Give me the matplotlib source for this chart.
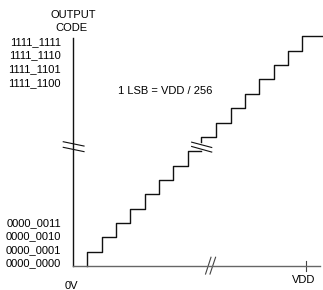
import matplotlib
matplotlib.use('Agg')
import matplotlib.pyplot as plt

plt.rcParams['font.family'] = ['Liberation Sans', 'DejaVu Sans']

# staircase, x in LSB, y in output code (drawn schematically, broken in the middle)
lower_x = [1, 1, 2, 3, 4, 5, 6, 7, 8, 8.9]
lower_code = [0, 1, 2, 3, 4, 5, 6, 7, 8, 8]
upper_x = [8.9, 8.9, 10, 11, 12, 13, 14, 15, 16, 17.5]
upper_code = [8.65, 9, 10, 11, 12, 13, 14, 15, 16, 16]

code_labels_top = ['1111_1111', '1111_1110', '1111_1101', '1111_1100']
code_pos_top = [15.6, 14.67, 13.73, 12.77]
code_labels_bottom = ['0000_0011', '0000_0010', '0000_0001', '0000_0000']
code_pos_bottom = [3.02, 2.09, 1.11, 0.19]

vdd_x = 16.24
fs = 8

fig = plt.figure(figsize=(3.23, 2.90), dpi=100)
ax = fig.add_axes([0, 0, 1, 1])
ax.set_xlim(-5.094, 17.446)
ax.set_ylim(-1.672, 18.537)
ax.set_xticks([])
ax.set_yticks([])
for s in ['top', 'right']:
    ax.spines[s].set_visible(False)

# axes drawn as spines through the origin
ax.spines['left'].set_position(('data', 0))
ax.spines['left'].set_bounds(0, 15.9)
ax.spines['left'].set_color('#111111')
ax.spines['left'].set_linewidth(1.0)
ax.spines['bottom'].set_position(('data', 0))
ax.spines['bottom'].set_bounds(0, 17.24)
ax.spines['bottom'].set_color('#666666')
ax.spines['bottom'].set_linewidth(1.0)

ax.step(lower_x, lower_code, where='post', color='#111111', lw=1.0)
ax.step(upper_x, upper_code, where='post', color='#111111', lw=1.0)

# break marks
brk = dict(color='#111111', lw=0.8)
ax.plot([-0.68, 0.77], [8.66, 8.36], **brk)
ax.plot([-0.68, 0.77], [8.27, 7.97], **brk)
ax.plot([8.28, 9.68], [8.63, 8.26], **brk)
ax.plot([8.28, 9.68], [8.33, 7.94], **brk)
ax.plot([9.25, 9.63], [-0.56, 0.61], color='#444444', lw=0.8)
ax.plot([9.56, 9.95], [-0.56, 0.61], color='#444444', lw=0.8)

# VDD tick
ax.plot([vdd_x, vdd_x], [-0.33, 0.37], color='#444444', lw=0.8)

for lab, y in zip(code_labels_top + code_labels_bottom, code_pos_top + code_pos_bottom):
    ax.text(-0.84, y, lab, ha='right', va='center', fontsize=fs)

ax.text(0.0, 17.49, 'OUTPUT', ha='center', va='center', fontsize=fs)
ax.text(-0.12, 16.56, 'CODE', ha='center', va='center', fontsize=fs)
ax.text(6.42, 12.22, '1 LSB = VDD / 256', ha='center', va='center', fontsize=fs)
ax.text(16.07, -0.98, 'VDD', ha='center', va='center', fontsize=fs)
ax.text(-0.09, -1.36, '0V', ha='center', va='center', fontsize=fs)

fig.savefig('out.png', dpi=100)
